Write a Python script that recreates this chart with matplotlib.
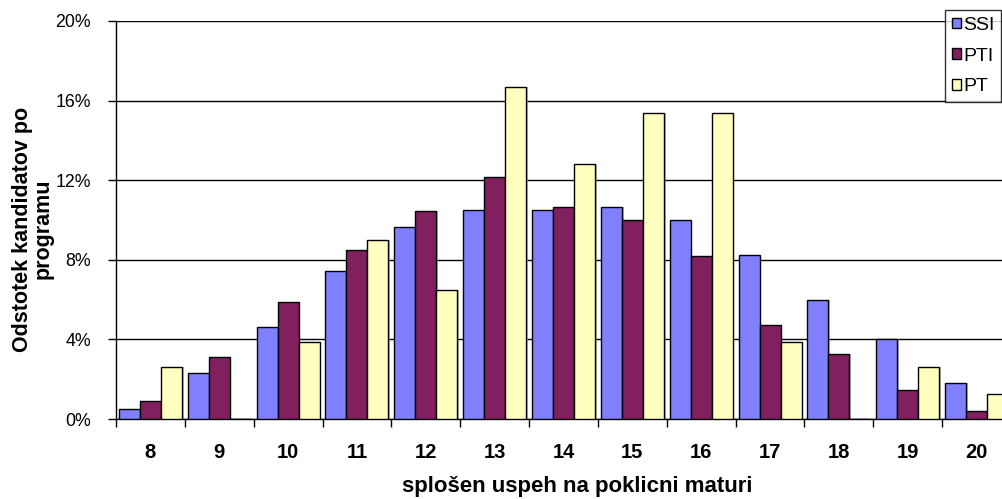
import matplotlib
matplotlib.use("Agg")
import matplotlib.pyplot as plt
import matplotlib.patheffects as pe
import numpy as np
from matplotlib.ticker import FixedLocator, FuncFormatter

plt.rcParams['font.family'] = ['Liberation Sans', 'DejaVu Sans']

categories = ['8', '9', '10', '11', '12', '13', '14', '15', '16', '17', '18', '19', '20']
ssi = [0.52, 2.3, 4.6, 7.43, 9.65, 10.5, 10.5, 10.65, 10.0, 8.23, 6.0, 4.0, 1.8]
pti = [0.89, 3.13, 5.88, 8.5, 10.45, 12.15, 10.65, 10.0, 8.17, 4.72, 3.25, 1.46, 0.42]
pt = [2.6, 0.0, 3.86, 9.0, 6.47, 16.7, 12.8, 15.4, 15.4, 3.85, 0.0, 2.6, 1.27]
series = [('SSI', ssi, '#8080FF'), ('PTI', pti, '#80205E'), ('PT', pt, '#FFFFC0')]

fig = plt.figure(figsize=(10.02, 4.99), dpi=100)
W, H = 1002, 499
left, right, top, bottom = 116, 1011, 21, 419
ax = fig.add_axes([left / W, 1 - bottom / H, (right - left) / W, (bottom - top) / H])

x = np.arange(len(categories))
bw = 0.305
shadow = [pe.SimplePatchShadow(offset=(1.2, 0), shadow_rgbFace='#909090', alpha=0.6), pe.Normal()]
for i, (name, vals, col) in enumerate(series):
    bars = ax.bar(x + (i - 1) * bw, vals, width=bw, color=col, edgecolor='black',
                  linewidth=1.0, label=name, zorder=3)
    for b in bars:
        b.set_path_effects(shadow)

ax.set_xlim(-0.5, len(categories) - 0.5)
ax.set_ylim(0, 20)
ax.yaxis.set_major_locator(FixedLocator([0, 4, 8, 12, 16, 20]))
ax.yaxis.set_major_formatter(FuncFormatter(lambda v, p: f'{v:.0f}%'))
ax.grid(axis='y', color='black', linewidth=1.0, zorder=0)
ax.set_axisbelow(True)

ax.set_xticks(x)
ax.set_xticklabels(categories, fontweight='bold', fontsize=14.5)
ax.set_xticks(np.arange(-0.5, len(categories), 1), minor=True)
ax.tick_params(axis='x', which='major', length=0, pad=17)
ax.tick_params(axis='x', which='minor', length=6, width=1, color='black', direction='out')
ax.tick_params(axis='y', length=6, width=1, direction='out', labelsize=12.8, pad=12)

for s in ['top', 'right']:
    ax.spines[s].set_visible(False)
ax.spines['left'].set_linewidth(1.0)
ax.spines['bottom'].set_linewidth(1.0)

ax.set_xlabel('splošen uspeh na poklicni maturi', fontweight='bold', fontsize=16)
ax.xaxis.set_label_coords((577 - left) / (right - left), -(476 - bottom) / (bottom - top))
ax.set_ylabel('Odstotek kandidatov po\nprogramu', fontweight='bold', fontsize=15.5,
              linespacing=1.0)
ax.yaxis.set_label_coords((54 - left) / (right - left), (bottom - 229) / (bottom - top))

leg = fig.legend(loc='upper left', bbox_to_anchor=(945 / W, 1 - 10 / H),
                 fontsize=14, frameon=True, fancybox=False, edgecolor='black',
                 handlelength=0.45, handleheight=0.45, handletextpad=0.12,
                 labelspacing=0.71, borderpad=0.35, borderaxespad=0)
leg.get_frame().set_linewidth(1.0)

fig.savefig('out.png', dpi=100)
